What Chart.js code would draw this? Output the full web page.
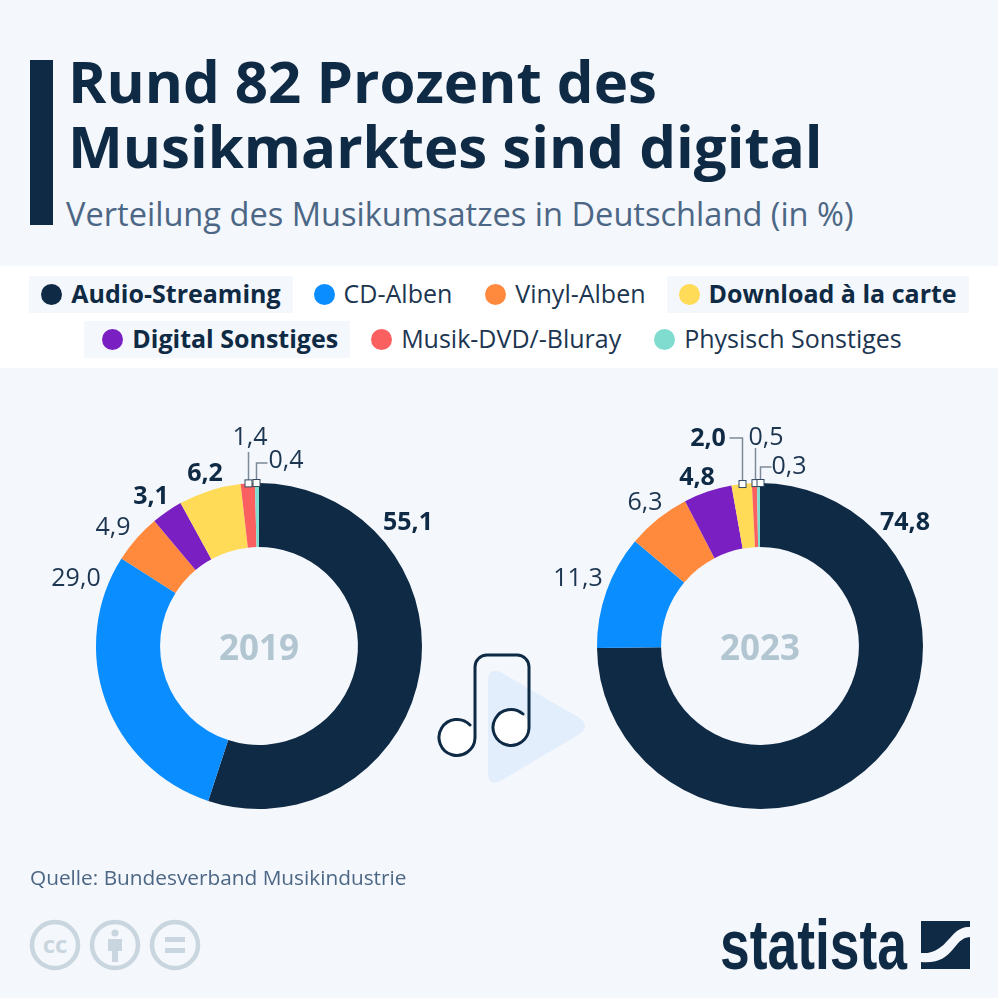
<!DOCTYPE html>
<html lang="de">
<head>
<meta charset="utf-8">
<title>Musikmarkt</title>
<script src="https://cdn.jsdelivr.net/npm/chart.js@4"></script>
<style>
html, body { margin: 0; padding: 0; width: 998px; height: 998px; overflow: hidden; background: #f4f7fb; }
body { position: relative; font-family: "Open Sans", sans-serif; color: #0f2a44; }
#bar { position: absolute; left: 30px; top: 60px; width: 23px; height: 165px; background: #0f2a44; }
#title { position: absolute; left: 68px; top: 48px; font-size: 58.2px; line-height: 65px; font-weight: 700; white-space: nowrap; }
#subtitle { position: absolute; left: 66px; top: 193px; font-size: 32.6px; line-height: 42px; color: #4c6785; white-space: nowrap; }
#band { position: absolute; left: 0; top: 266px; width: 998px; height: 102px; background: #fff; }
.row { position: absolute; left: 0; width: 998px; height: 37px; display: flex; justify-content: center; }
.item { display: flex; align-items: center; box-sizing: border-box; height: 37px; padding: 0 12px 3px 10px; margin: 0 4.5px; font-size: 25px; white-space: nowrap; color: #1c3550; }
.item.on { background: #f4f7fb; font-weight: 700; color: #0f2a44; }
#row2 .item:first-child { padding-left: 16px; }
.dot { width: 21px; height: 21px; border-radius: 50%; margin: 3px 9px 0 2px; flex: none; }
canvas { position: absolute; top: 411px; }
#c2019 { left: 24px; }
#c2023 { left: 525px; }
#deco { position: absolute; left: 0; top: 0; }
#source { position: absolute; left: 30px; top: 864px; font-size: 20.8px; line-height: 27px; color: #4c6785; }
</style>
</head>
<body>
<div id="bar"></div>
<div id="title">Rund 82 Prozent des<br>Musikmarktes sind digital</div>
<div id="subtitle">Verteilung des Musikumsatzes in Deutschland (in %)</div>
<div id="band"></div>
<div class="row" id="row1" style="top:276px"></div>
<div class="row" id="row2" style="top:321px"></div>

<svg id="deco" width="998" height="998" viewBox="0 0 998 998">
  <path d="M488 682 Q488 666 502 673 L578 717 Q592 726 578 735 L502 780 Q488 788 488 772 Z" fill="#e2eefc"/>
  <circle cx="457" cy="738" r="18" fill="#fff"/>
  <circle cx="511" cy="728" r="18" fill="#fff"/>
  <path d="M470 725 A18 18 0 1 0 475 738 V667 A12 12 0 0 1 487 655 H517 A12 12 0 0 1 529 667 V728 A18 18 0 1 1 523 714" fill="none" stroke="#0f2a44" stroke-width="3" stroke-linecap="round"/>
  <g fill="none" stroke="#c9d6df" stroke-width="4.5">
    <circle cx="55" cy="945" r="23"/><circle cx="115" cy="945" r="23"/><circle cx="175" cy="945" r="23"/>
  </g>
  <text x="55" y="953" text-anchor="middle" font-family="Open Sans" font-weight="700" font-size="24" fill="#c9d6df">cc</text>
  <g fill="#c9d6df">
    <circle cx="115" cy="933" r="3.5"/>
    <path d="M108 939 H122 V951 H118 V962 H112 V951 H108 Z"/>
    <rect x="165" y="937" width="20" height="5"/><rect x="165" y="948" width="20" height="5"/>
  </g>
  <text x="720" y="969" textLength="187" lengthAdjust="spacingAndGlyphs" font-family="Liberation Sans" font-weight="700" font-size="70" fill="#0f2a44">statista</text>
  <rect x="921" y="921" width="49" height="48" fill="#0f2a44"/>
  <path d="M970 927 C950 925 948 955 921 953 L921 962 C955 965 952 938 970 937 Z" fill="#f4f7fb"/>
</svg>

<canvas id="c2019" width="470" height="470"></canvas>
<canvas id="c2023" width="470" height="470"></canvas>
<div id="source">Quelle: Bundesverband Musikindustrie</div>

<script>
// order of the slices, clockwise from 12 o'clock
const categories = ['Audio-Streaming', 'CD-Alben', 'Vinyl-Alben', 'Digital Sonstiges', 'Download à la carte', 'Musik-DVD/-Bluray', 'Physisch Sonstiges'];
const values2019 = [55.1, 29.0, 4.9, 3.1, 6.2, 1.4, 0.4];
const values2023 = [74.8, 11.3, 6.3, 4.8, 2.0, 0.5, 0.3];
const digital = ['Audio-Streaming', 'Download à la carte', 'Digital Sonstiges'];
const legendRow1 = ['Audio-Streaming', 'CD-Alben', 'Vinyl-Alben', 'Download à la carte'];
const legendRow2 = ['Digital Sonstiges', 'Musik-DVD/-Bluray', 'Physisch Sonstiges'];
const colors = ['#0f2a44', '#0a8dff', '#ff8a3d', '#7a1fc2', '#ffdb58', '#fb6060', '#7fdccf'];

// label centres relative to the donut centre, [dx, dy]
const labelPos2019 = [[149, -123], [-183, -67], [-146, -118], [-108, -149], [-54, -172], [-9, -208], [27, -185]];
const labelPos2023 = [[145, -123], [-182, -67], [-115, -143], [-63, -168], [-52, -207], [6, -208], [29, -179]];
// leaders: slice index, how high the line goes, where it turns to the side, nudge of the square
const leaders2019 = [
    { i: 5, up: 194, side: 0, nudge: 0 },
    { i: 6, up: 183, side: 11, nudge: -1 }
];
const leaders2023 = [
    { i: 4, up: 208, side: -13, nudge: 0 },
    { i: 5, up: 198, side: 0, nudge: 1 },
    { i: 6, up: 179, side: 11, nudge: 2 }
];

function addLegend(rowId, names) {
    const row = document.getElementById(rowId);
    names.forEach(function (name) {
        const item = document.createElement('div');
        item.className = 'item' + (digital.includes(name) ? ' on' : '');
        const dot = document.createElement('span');
        dot.className = 'dot';
        dot.style.background = colors[categories.indexOf(name)];
        item.appendChild(dot);
        item.appendChild(document.createTextNode(name));
        row.appendChild(item);
    });
}
addLegend('row1', legendRow1);
addLegend('row2', legendRow2);

const labelPlugin = {
    id: 'donutLabels',
    afterDatasetsDraw(chart, args, opts) {
        const ctx = chart.ctx;
        const arcs = chart.getDatasetMeta(0).data;
        const cx = arcs[0].x, cy = arcs[0].y, r = arcs[0].outerRadius;
        ctx.save();
        // leaders first
        opts.leaders.forEach(function (l) {
            const arc = arcs[l.i];
            const mid = (arc.startAngle + arc.endAngle) / 2;
            const x = Math.round(cx + r * Math.cos(mid)) + l.nudge + 0.5;
            const y = cy + r * Math.sin(mid);
            ctx.strokeStyle = '#7d8b99';
            ctx.lineWidth = 1.5;
            ctx.beginPath();
            ctx.moveTo(x, y);
            ctx.lineTo(x, cy - l.up);
            if (l.side) ctx.lineTo(x + l.side, cy - l.up);
            ctx.stroke();
            ctx.fillStyle = '#fff';
            ctx.strokeStyle = '#33485e';
            ctx.lineWidth = 1;
            ctx.fillRect(x - 3.5, y - 3.5, 7, 7);
            ctx.strokeRect(x - 3.5, y - 3.5, 7, 7);
        });
        // value labels
        ctx.textAlign = 'center';
        ctx.textBaseline = 'middle';
        chart.data.datasets[0].data.forEach(function (v, i) {
            const on = digital.includes(chart.data.labels[i]);
            ctx.font = (on ? '700 ' : '400 ') + '25px "Open Sans"';
            ctx.fillStyle = on ? '#0f2a44' : '#1c3550';
            ctx.fillText(v.toFixed(1).replace('.', ','), cx + opts.pos[i][0], cy + opts.pos[i][1]);
        });
        // year in the hole
        ctx.font = '700 35px "Open Sans"';
        ctx.fillStyle = '#b2c6d2';
        ctx.fillText(opts.year, cx, cy + 4);
        ctx.restore();
    }
};

function makeDonut(id, values, year, pos, leaders) {
    return new Chart(document.getElementById(id), {
        type: 'doughnut',
        data: {
            labels: categories,
            datasets: [{ data: values, backgroundColor: colors, borderWidth: 0 }]
        },
        options: {
            responsive: false,
            animation: false,
            devicePixelRatio: 1,
            cutout: '60.7%',
            layout: { padding: 72 },
            events: [],
            plugins: {
                legend: { display: false },
                tooltip: { enabled: false },
                donutLabels: { year: year, pos: pos, leaders: leaders }
            }
        },
        plugins: [labelPlugin]
    });
}

makeDonut('c2019', values2019, '2019', labelPos2019, leaders2019);
makeDonut('c2023', values2023, '2023', labelPos2023, leaders2023);
</script>
</body>
</html>
